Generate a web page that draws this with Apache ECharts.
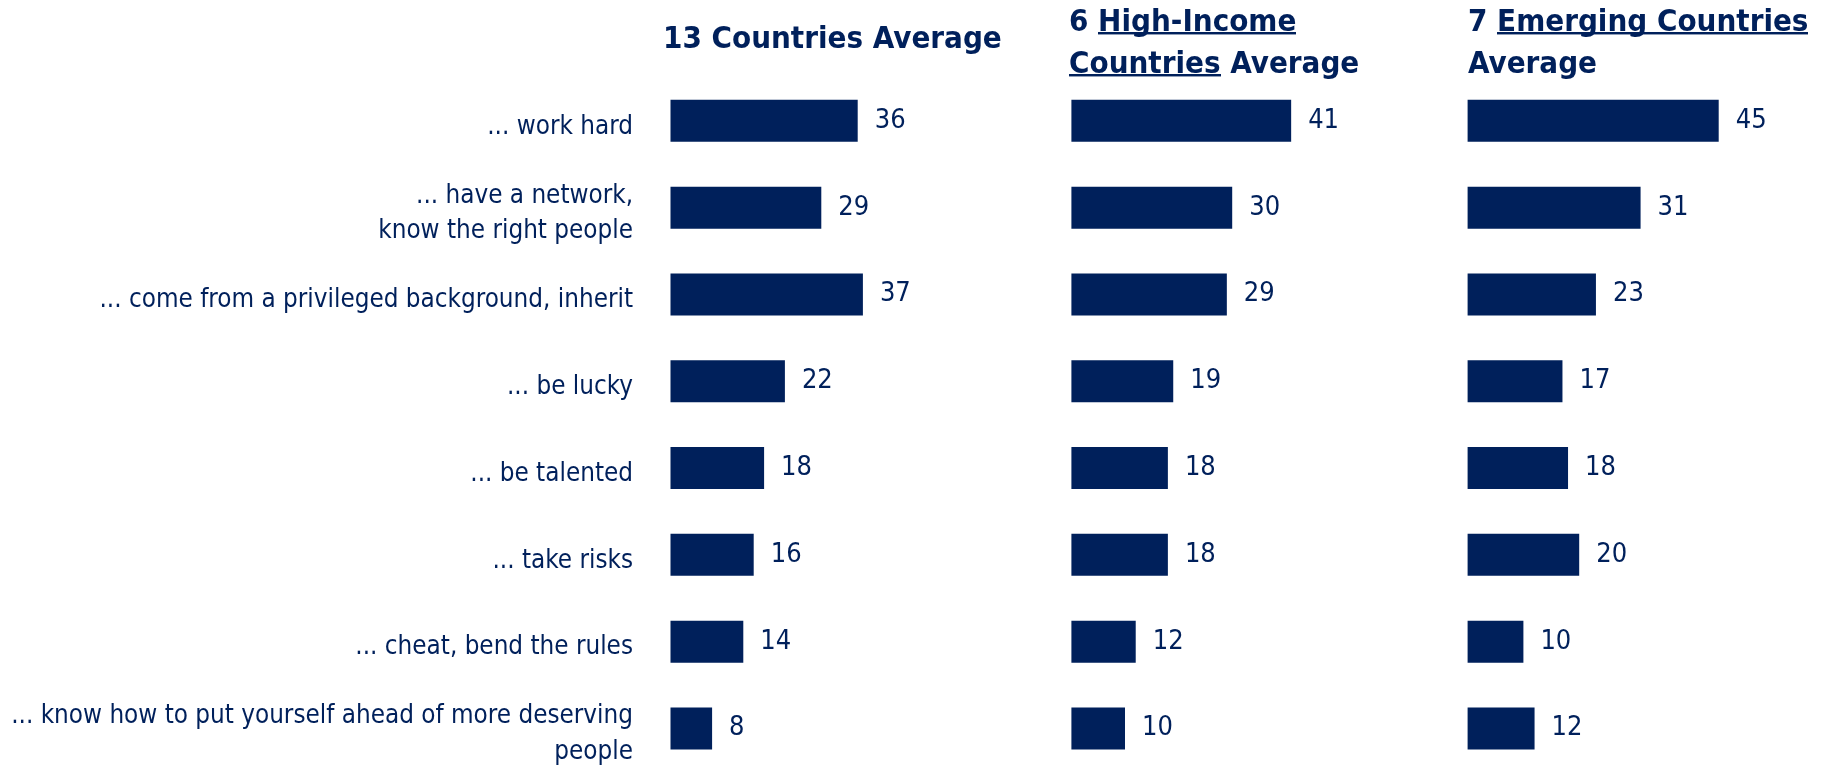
<!DOCTYPE html>
<html><head><meta charset="utf-8">
<script src="https://cdn.jsdelivr.net/npm/echarts@6/dist/echarts.min.js"></script>
<style>html,body{margin:0;padding:0;background:#fff}#c{width:1822px;height:765px}</style>
</head><body><div id="c"></div>
<script>
const categories = [
  '... work hard',
  '... have a network,\nknow the right people',
  '... come from a privileged background, inherit',
  '... be lucky',
  '... be talented',
  '... take risks',
  '... cheat, bend the rules',
  '... know how to put yourself ahead of more deserving\npeople'
];
const avg13 = [36, 29, 37, 22, 18, 16, 14, 8];
const highIncome = [41, 30, 29, 19, 18, 18, 12, 10];
const emerging = [45, 31, 23, 17, 18, 20, 10, 12];
const titles = [
  '{n|13 Countries Average}',
  '{n|6 }{u|High-Income}\n{u|Countries}{n| Average}',
  '{n|7 }{u|Emerging Countries}\n{n|Average}'
];

const NAVY = '#00205b';
const FONT = "'Liberation Sans Narrow', 'DejaVu Sans Condensed', 'Roboto', sans-serif";

const ul = document.createElement('canvas');
ul.width = 4; ul.height = 100;
const ctx = ul.getContext('2d');
ctx.fillStyle = NAVY;
ctx.fillRect(0, 80, 4, 7);

const rich = {
  n: { fontFamily: FONT, fontWeight: 'bold', fontSize: 31, color: NAVY, lineHeight: 42 },
  u: { fontFamily: FONT, fontWeight: 'bold', fontSize: 31, color: NAVY, lineHeight: 42,
       backgroundColor: { image: ul } }
};

const grids = [
  { left: 670.5, width: 260, top: 120.85, height: 607.6, outerBoundsMode: 'none', containLabel: false },
  { left: 1071.4, width: 268, top: 120.85, height: 607.6, outerBoundsMode: 'none', containLabel: false },
  { left: 1467.6, width: 279, top: 120.85, height: 607.6, outerBoundsMode: 'none', containLabel: false }
];
const titlePos = [
  { left: 663, top: 19 },
  { left: 1069, top: 2 },
  { left: 1468, top: 2 }
];
const seriesData = [avg13, highIncome, emerging];

const option = {
  animation: false,
  backgroundColor: '#ffffff',
  title: titles.map((t, i) => ({
    text: t, left: titlePos[i].left, top: titlePos[i].top, padding: 0,
    textStyle: { rich: rich }
  })),
  grid: grids,
  xAxis: grids.map((g, i) => ({
    type: 'value', gridIndex: i, min: 0, max: 50,
    show: false, splitLine: { show: false }
  })),
  yAxis: grids.map((g, i) => ({
    type: 'category', gridIndex: i, data: categories, inverse: true, boundaryGap: false,
    axisLine: { show: false }, axisTick: { show: false }, splitLine: { show: false },
    axisLabel: {
      show: i === 0, margin: 37.5, align: 'right',
      formatter: v => v.split('\n').map(s => '{a|' + s + '}').join('\n'),
      rich: {
        a: { fontFamily: FONT, fontSize: 25.8, color: NAVY, lineHeight: 35.5,
             align: 'right', padding: [12, 0, 0, 0] }
      }
    }
  })),
  series: seriesData.map((d, i) => ({
    type: 'bar', xAxisIndex: i, yAxisIndex: i, data: d, barWidth: 42,
    itemStyle: { color: NAVY },
    label: { show: true, position: 'right', distance: 17, fontFamily: FONT,
             fontSize: 27, color: NAVY }
  }))
};
echarts.init(document.getElementById('c'), null, { renderer: 'canvas' }).setOption(option);
</script></body></html>
